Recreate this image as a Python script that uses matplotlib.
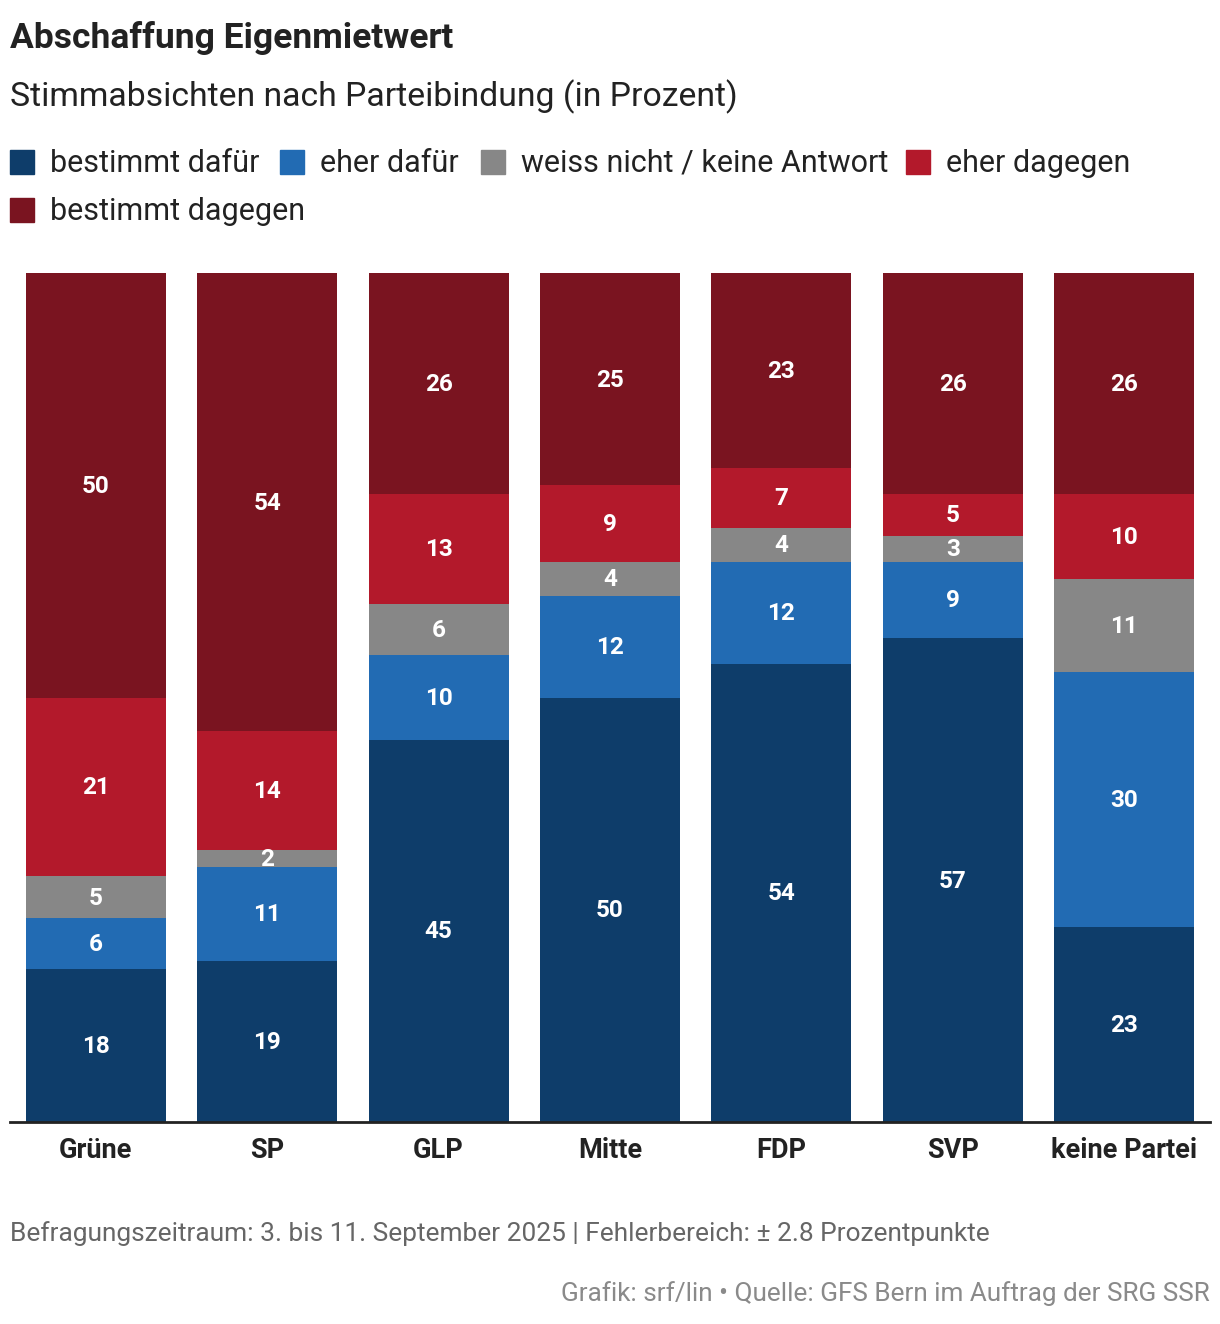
import matplotlib
matplotlib.use("Agg")
import matplotlib.pyplot as plt
from matplotlib.patches import Rectangle
import numpy as np

plt.rcParams['font.family'] = ['Roboto', 'DejaVu Sans']

parties = ["Grüne", "SP", "GLP", "Mitte", "FDP", "SVP", "keine Partei"]
series_names = ["bestimmt dafür", "eher dafür", "weiss nicht / keine Antwort", "eher dagegen", "bestimmt dagegen"]
bestimmt_dafuer = [18, 19, 45, 50, 54, 57, 23]
eher_dafuer = [6, 11, 10, 12, 12, 9, 30]
weiss_nicht = [5, 2, 6, 4, 4, 3, 11]
eher_dagegen = [21, 14, 13, 9, 7, 5, 10]
bestimmt_dagegen = [50, 54, 26, 25, 23, 26, 26]
colors = ["#0e3d6a", "#226bb3", "#878787", "#b3192b", "#7a1420"]

title = "Abschaffung Eigenmietwert"
subtitle = "Stimmabsichten nach Parteibindung (in Prozent)"
note = "Befragungszeitraum: 3. bis 11. September 2025 | Fehlerbereich: ± 2.8 Prozentpunkte"
credit = "Grafik: srf/lin • Quelle: GFS Bern im Auftrag der SRG SSR"

W, H = 1220, 1324
fig = plt.figure(figsize=(W / 100, H / 100), dpi=100)
ax = fig.add_axes([10 / W, (H - 1122) / H, 1200 / W, (1122 - 273) / H])

data = [bestimmt_dafuer, eher_dafuer, weiss_nicht, eher_dagegen, bestimmt_dagegen]
x = np.arange(len(parties))
bottom = np.zeros(len(parties))
for vals, col in zip(data, colors):
    vals = np.array(vals, dtype=float)
    ax.bar(x, vals, bottom=bottom, width=0.817, color=col, linewidth=0)
    for xi, v, b in zip(x, vals, bottom):
        ax.annotate(f"{int(v)}", (xi, b + v / 2), xytext=(0, -1), textcoords="offset pixels",
                    ha="center", va="center", color="white", fontsize=17.5, fontweight="bold")
    bottom += vals

ax.set_xlim(-0.5, 6.5)
ax.set_ylim(0, 100)
ax.set_yticks([])
ax.set_xticks(x)
ax.set_xticklabels(parties, fontsize=19.5, fontweight="bold", color="#222222")
ax.tick_params(axis="x", length=0, pad=11)
for s in ["top", "right", "left"]:
    ax.spines[s].set_visible(False)
ax.spines["bottom"].set_color("#222222")
ax.spines["bottom"].set_linewidth(2)

def fy(ypx):
    return 1 - ypx / H

fig.text(10 / W, fy(38), title, fontsize=25.5, fontweight="bold", color="#222222", va="center")
fig.text(10 / W, fy(96.5), subtitle, fontsize=24.3, color="#222222", va="center")

leg_pos = [(10, 162), (280, 162), (481, 162), (906, 162), (10, 210)]
for (lx, ly), name, col in zip(leg_pos, series_names, colors):
    fig.patches.append(Rectangle((lx / W, fy(ly + 12)), 24 / W, 24 / H,
                                 transform=fig.transFigure, color=col, figure=fig))
    fig.text((lx + 40) / W, fy(ly + 1.5), name, fontsize=22, color="#222222", va="center")

fig.text(10 / W, fy(1233.5), note, fontsize=18.9, color="#666666", va="center")
fig.text(1210 / W, fy(1294), credit, fontsize=18.8, color="#8a8a8a", va="center", ha="right")

fig.savefig("out.png", dpi=100)
